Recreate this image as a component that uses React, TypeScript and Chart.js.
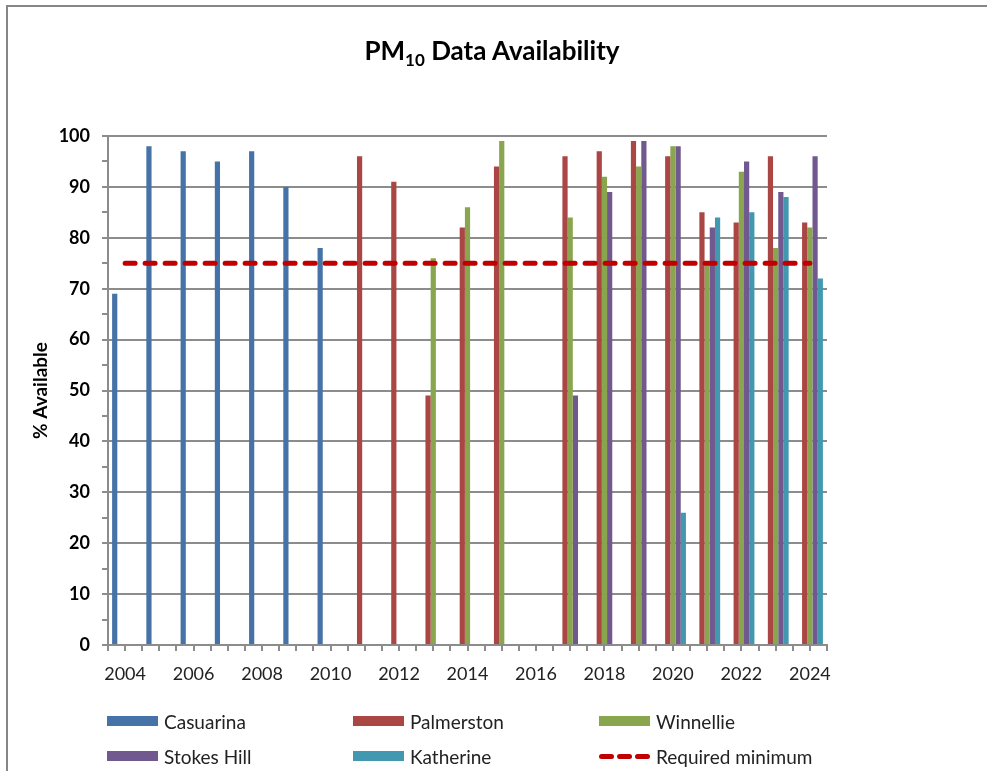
import React, { useEffect, useRef } from "react";
import { Chart, registerables } from "chart.js";

Chart.register(...registerables);

const years = [
  "2004", "2005", "2006", "2007", "2008", "2009", "2010", "2011", "2012", "2013", "2014",
  "2015", "2016", "2017", "2018", "2019", "2020", "2021", "2022", "2023", "2024",
];

const casuarina = [69, 98, 97, 95, 97, 90, 78, null, null, null, null, null, null, null, null, null, null, null, null, null, null];
const palmerston = [null, null, null, null, null, null, null, 96, 91, 49, 82, 94, null, 96, 97, 99, 96, 85, 83, 96, 83];
const winnellie = [null, null, null, null, null, null, null, null, null, 76, 86, 99, null, 84, 92, 94, 98, 75, 93, 78, 82];
const stokesHill = [null, null, null, null, null, null, null, null, null, null, null, null, null, 49, 89, 99, 98, 82, 95, 89, 96];
const katherine = [null, null, null, null, null, null, null, null, null, null, null, null, null, null, null, null, 26, 84, 85, 88, 72];
const requiredMinimum = [75, 75, 75, 75, 75, 75, 75, 75, 75, 75, 75, 75, 75, 75, 75, 75, 75, 75, 75, 75, 75];

const barSeries = [
  { label: "Casuarina", data: casuarina, color: "#4572A7" },
  { label: "Palmerston", data: palmerston, color: "#AA4643" },
  { label: "Winnellie", data: winnellie, color: "#89A54E" },
  { label: "Stokes Hill", data: stokesHill, color: "#71588F" },
  { label: "Katherine", data: katherine, color: "#4198AF" },
];
const lineSeries = { label: "Required minimum", data: requiredMinimum, color: "#C00000" };

const FONT = "Lato, 'Liberation Sans', sans-serif";
const GRID = "#8C8C8C";

const centerTicks = {
  id: "centerTicks",
  afterDraw(chart: any) {
    const x = chart.scales.x;
    const ctx = chart.ctx;
    const bottom = chart.chartArea.bottom;
    ctx.save();
    ctx.strokeStyle = GRID;
    ctx.lineWidth = 2;
    for (let i = 0; i < years.length; i++) {
      const px = Math.round(x.getPixelForTick(i));
      ctx.beginPath();
      ctx.moveTo(px, bottom);
      ctx.lineTo(px, bottom + 6);
      ctx.stroke();
    }
    ctx.restore();
  },
};

function App() {
  const ref = useRef<HTMLCanvasElement | null>(null);

  useEffect(() => {
    if (!ref.current) return;
    const datasets: any[] = [
      {
        type: "line",
        label: lineSeries.label,
        data: lineSeries.data,
        borderColor: lineSeries.color,
        backgroundColor: lineSeries.color,
        borderWidth: 5,
        borderDash: [10, 10],
        borderCapStyle: "round",
        pointRadius: 0,
        fill: false,
        order: 0,
      },
      ...barSeries.map((s) => ({
        type: "bar",
        label: s.label,
        data: s.data,
        backgroundColor: s.color,
        borderWidth: 0,
        categoryPercentage: 0.76,
        barPercentage: 1,
        order: 1,
      })),
    ];
    const chart = new Chart(ref.current, {
      type: "bar",
      data: { labels: years, datasets },
      options: {
        animation: false,
        responsive: false,
        maintainAspectRatio: false,
        devicePixelRatio: 1,
        layout: { padding: { left: 0, top: 136, right: 160, bottom: 86 } },
        plugins: {
          legend: { display: false },
          title: { display: false },
          tooltip: { enabled: false },
        },
        scales: {
          x: {
            type: "category",
            offset: true,
            afterFit: (s: any) => {
              s.height = 40;
            },
            grid: {
              offset: true,
              drawOnChartArea: false,
              drawTicks: true,
              tickLength: 6,
              tickColor: GRID,
              lineWidth: 2,
              color: GRID,
            },
            border: { color: GRID, width: 2 },
            ticks: {
              autoSkip: false,
              maxRotation: 0,
              minRotation: 0,
              padding: 12,
              color: "#222",
              font: { family: FONT, size: 18 },
              callback: (_v: any, i: number) => (i % 2 === 0 ? years[i] : ""),
            },
          },
          y: {
            min: 0,
            max: 100,
            afterFit: (s: any) => {
              s.width = 108;
            },
            grid: {
              color: (c: any) => (c.tick && c.tick.value % 10 === 0 ? GRID : "rgba(0,0,0,0)"),
              tickColor: GRID,
              lineWidth: 2,
              tickLength: 6,
              drawTicks: true,
            },
            border: { color: GRID, width: 2 },
            ticks: {
              stepSize: 5,
              padding: 12,
              color: "#000",
              font: { family: FONT, size: 18, weight: "bold" },
              callback: (v: any) => (Number(v) % 10 === 0 ? String(v) : ""),
            },
            title: {
              display: true,
              text: "% Available",
              color: "#000",
              font: { family: FONT, size: 19, weight: "bold" },
              padding: { top: 29, bottom: 0 },
            },
          },
        },
      },
      plugins: [centerTicks],
    });
    return () => chart.destroy();
  }, []);

  const legendItems = [
    ...barSeries.map((s) => ({ label: s.label, color: s.color, dashed: false })),
    { label: lineSeries.label, color: lineSeries.color, dashed: true },
  ];
  const colX = [107, 353, 599];
  const rowY = [721, 756];

  return (
    <div
      style={{
        position: "absolute",
        left: 0,
        top: 0,
        width: 987,
        height: 771,
        overflow: "hidden",
        background: "#fff",
        fontFamily: FONT,
      }}
    >
      <div
        style={{
          position: "absolute",
          left: 6,
          top: 5,
          width: 1100,
          height: 900,
          border: "2px solid #868686",
        }}
      />
      <canvas ref={ref} width={987} height={771} style={{ position: "absolute", left: 0, top: 0, width: 987, height: 771 }} />
      <div
        style={{
          position: "absolute",
          left: 0,
          top: 35,
          width: 984,
          textAlign: "center",
          fontSize: 26,
          fontWeight: "bold",
          color: "#000",
          lineHeight: "30px",
        }}
      >
        PM<sub style={{ fontSize: 17, verticalAlign: "-6px", lineHeight: 0 }}>10</sub> Data Availability
      </div>
      {legendItems.map((it, i) => {
        const col = i % 3;
        const row = Math.floor(i / 3);
        return (
          <div
            key={it.label}
            style={{
              position: "absolute",
              left: colX[col],
              top: rowY[row] - 12,
              height: 24,
              display: "flex",
              alignItems: "center",
              whiteSpace: "nowrap",
            }}
          >
            {it.dashed ? (
              <div style={{ width: 51, height: 10, display: "flex", alignItems: "center", justifyContent: "space-between" }}>
                {[0, 1, 2].map((k) => (
                  <div key={k} style={{ width: 15, height: 5, borderRadius: 3, background: it.color }} />
                ))}
              </div>
            ) : (
              <div style={{ width: 51, height: 10, background: it.color }} />
            )}
            <span style={{ marginLeft: 6, fontSize: 19, color: "#222" }}>{it.label}</span>
          </div>
        );
      })}
    </div>
  );
}

export default App;
